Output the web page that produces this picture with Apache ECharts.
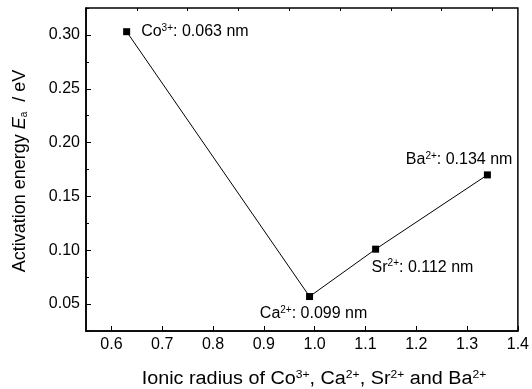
<!DOCTYPE html>
<html>
<head>
<meta charset="utf-8">
<script src="https://cdn.jsdelivr.net/npm/echarts@6/dist/echarts.min.js"></script>
<style>
  html, body { margin: 0; padding: 0; background: #fff; }
  #chart { width: 532px; height: 389px; }
</style>
</head>
<body>
<div id="chart"></div>
<script>
// Ionic radius (Å) of the dopant ions and the measured activation energy (eV)
const ions = ['Co', 'Ca', 'Sr', 'Ba'];
const charges = ['3+', '2+', '2+', '2+'];
const ionicRadius = [0.63, 0.99, 1.12, 1.34];
const activationEnergy = [0.303, 0.057, 0.101, 0.170];

// Axis ticks
const xMajorTicks = [0.6, 0.7, 0.8, 0.9, 1.0, 1.1, 1.2, 1.3, 1.4];
const xMinorTicks = [0.55, 0.65, 0.75, 0.85, 0.95, 1.05, 1.15, 1.25, 1.35];
const yMajorTicks = [0.05, 0.10, 0.15, 0.20, 0.25, 0.30];
const yMinorTicks = [0.025, 0.075, 0.125, 0.175, 0.225, 0.275, 0.325];

const FONT = '"Liberation Sans", Arial, sans-serif';

// Per-point label placement
const labelPlacement = [
  { position: 'right', distance: 11, align: 'left', offset: [0, 0] },
  { position: 'bottom', distance: 5, align: 'center', offset: [4, 0] },
  { position: 'bottom', distance: 6, align: 'left', offset: [-4, 0] },
  { position: 'top', distance: 3, align: 'right', offset: [25, 0] }
];

const richLabel = {
  base: { fontSize: 16, fontFamily: FONT, color: '#000' },
  sup: { fontSize: 10, fontFamily: FONT, color: '#000', verticalAlign: 'top', padding: [0, 0, 7, 0] }
};

const points = ionicRadius.map((r, i) => ({
  value: [r, activationEnergy[i]],
  label: Object.assign({
    show: true,
    // radius in nm is the Å value / 10
    formatter: '{base|' + ions[i] + '}{sup|' + charges[i] + '}{base|: ' + (r / 10).toFixed(3) + ' nm}',
    rich: richLabel
  }, labelPlacement[i])
}));

const chart = echarts.init(document.getElementById('chart'), null, { renderer: 'canvas' });

const axisCommon = {
  type: 'value',
  splitLine: { show: false },
  axisLine: { show: true, onZero: false, lineStyle: { color: '#000', width: 1.5 } }
};

chart.setOption({
  animation: false,
  backgroundColor: '#fff',
  grid: {
    left: 86, right: 14, top: 8, bottom: 58,
    show: true, borderColor: '#000', borderWidth: 1.5, backgroundColor: 'transparent'
  },
  xAxis: [
    Object.assign({}, axisCommon, {
      min: 0.55, max: 1.4,
      axisTick: { show: true, inside: true, length: 5, customValues: xMajorTicks, lineStyle: { color: '#000', width: 1 } },
      axisLabel: {
        customValues: xMajorTicks, margin: 6, fontSize: 16, fontFamily: FONT, color: '#000',
        formatter: v => v.toFixed(1)
      }
    }),
    Object.assign({}, axisCommon, {
      min: 0.55, max: 1.4,
      axisLine: { show: false },
      axisTick: { show: true, inside: true, length: 3, customValues: xMinorTicks, lineStyle: { color: '#000', width: 1 } },
      axisLabel: { show: false }
    })
  ],
  yAxis: [
    Object.assign({}, axisCommon, {
      min: 0.025, max: 0.325,
      axisTick: { show: true, inside: true, length: 5, customValues: yMajorTicks, lineStyle: { color: '#000', width: 1 } },
      axisLabel: {
        customValues: yMajorTicks, margin: 6, fontSize: 16, fontFamily: FONT, color: '#000',
        formatter: v => v.toFixed(2)
      }
    }),
    Object.assign({}, axisCommon, {
      min: 0.025, max: 0.325, position: 'left',
      axisLine: { show: false },
      axisTick: { show: true, inside: true, length: 3, customValues: yMinorTicks, lineStyle: { color: '#000', width: 1 } },
      axisLabel: { show: false }
    })
  ],
  graphic: [
    {
      type: 'text',
      x: 314, y: 379,
      scaleX: 1.1,
      style: {
        text: '{b|Ionic radius of Co}{s|3+}{b|, Ca}{s|2+}{b|, Sr}{s|2+}{b| and Ba}{s|2+}',
        align: 'center', verticalAlign: 'middle',
        rich: {
          b: { fontSize: 18, fontFamily: FONT, fill: '#000' },
          s: { fontSize: 11, fontFamily: FONT, fill: '#000', verticalAlign: 'top', padding: [0, 0, 8, 0] }
        }
      }
    },
    {
      type: 'text',
      x: 20, y: 171,
      rotation: Math.PI / 2,
      style: {
        text: '{b|Activation energy }{i|E}{sub|a}{b|  / eV}',
        align: 'center', verticalAlign: 'middle',
        rich: {
          b: { fontSize: 18, fontFamily: FONT, fill: '#000' },
          i: { fontSize: 18, fontFamily: FONT, fontStyle: 'italic', fill: '#000' },
          sub: { fontSize: 10, fontFamily: FONT, fill: '#000', verticalAlign: 'bottom', padding: [7, 0, 0, 0] }
        }
      }
    }
  ],
  series: [{
    type: 'line',
    xAxisIndex: 0, yAxisIndex: 0,
    data: points,
    symbol: 'rect',
    symbolSize: 7,
    itemStyle: { color: '#000' },
    lineStyle: { color: '#000', width: 1 },
    emphasis: { disabled: true }
  }]
});
</script>
</body>
</html>
